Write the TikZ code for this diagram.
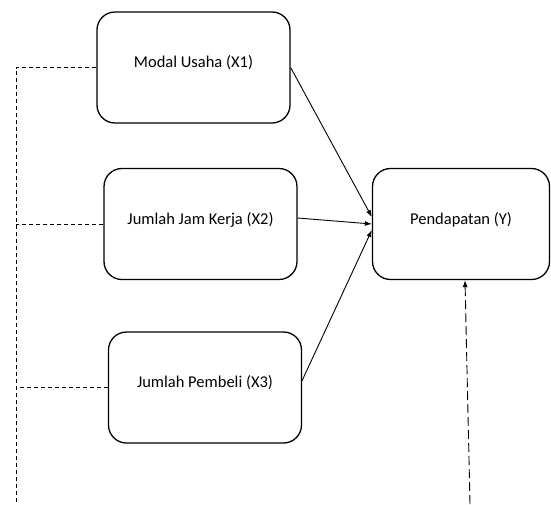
\documentclass[tikz,border=0pt]{standalone}
\usepackage{fontspec}
\setmainfont{Carlito}
\usetikzlibrary{arrows.meta}
\begin{document}
\begin{tikzpicture}
[x=1pt,y=-1pt,
  boxdecorate/.style={shape=rectangle,rounded corners=18pt,draw,line width=1.3pt,
    minimum width=193pt,minimum height=111pt,inner sep=0pt,
    text height=8pt,text depth=8pt,font=\fontsize{16.5}{19}\selectfont},
  linedecorate/.style={-{Latex[length=7pt,width=5pt]},line width=0.9pt},
  dashdecorate/.style={line width=0.9pt,dash pattern=on 4pt off 3pt},
  longdashdecorate/.style={-{Latex[length=7pt,width=5pt]},line width=0.9pt,dash pattern=on 9pt off 4pt}]
\useasboundingbox (0,0) rectangle (551,504);
%% boxes
\foreach \nodename/\x/\y/\txt in {modal/193.5/67.5/Modal Usaha (X1),
    jamkerja/200.5/224/Jumlah Jam Kerja (X2),
    pembeli/205/387.5/Jumlah Pembeli (X3)} {
  \node (\nodename) at (\x,\y) [boxdecorate] {\txt};
}
\node (pendapatan) at (461,224) [boxdecorate,minimum width=177pt] {Pendapatan (Y)};
%% free ends
\coordinate (leftend) at (16,504);
\coordinate (rightend) at (470,504);
%% arrows to Y
\draw[linedecorate] (modal.east) -- ([yshift=7pt]pendapatan.west);
\draw[linedecorate] ([yshift=6pt]jamkerja.east) -- (pendapatan.west);
\draw[linedecorate] ([yshift=7pt]pembeli.east) -- ([yshift=-6pt]pendapatan.west);
%% dashed lines
\draw[dashdecorate] (modal.west) -| (leftend);
\foreach \nodename in {jamkerja, pembeli} {
  \draw[dashdecorate] (\nodename.west) -- (\nodename.west -| leftend);
}
\draw[longdashdecorate] (rightend) -- ([xshift=4pt]pendapatan.south);
\end{tikzpicture}
\end{document}
